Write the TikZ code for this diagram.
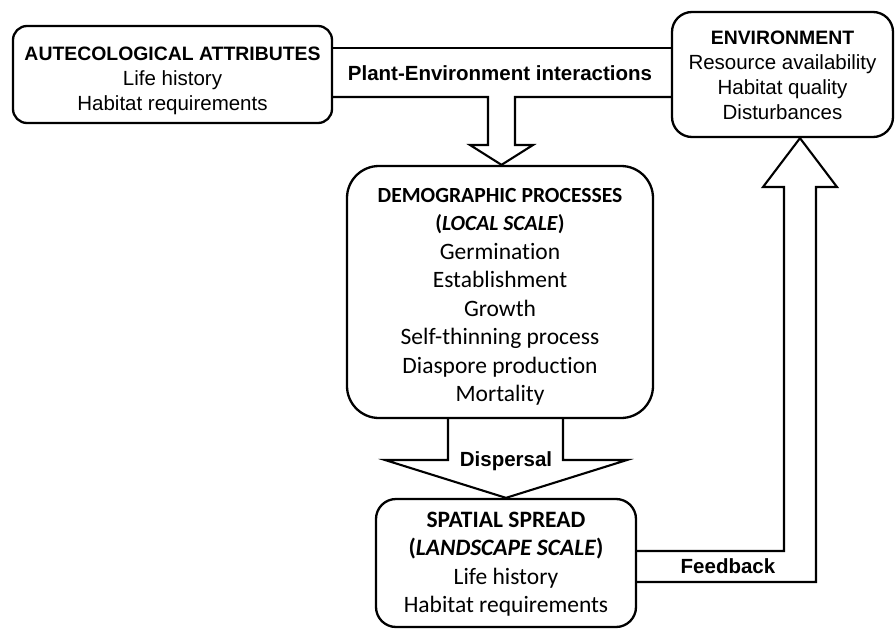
\documentclass[tikz,border=0pt]{standalone}
\usepackage{fontspec}
\setmainfont{Liberation Sans}
\newfontfamily\calibri[Ligatures={NoCommon}]{Carlito}
\usetikzlibrary{positioning}

\begin{document}
\begin{tikzpicture}[x=1pt,y=-1pt,
	box/.style={draw, line width=2.3pt, inner sep=0pt},
	arialtxt/.style={align=center, font=\fontsize{20.5}{25}\selectfont},
	calitxt/.style={align=center, font=\calibri\fontsize{23.5}{28.5}\selectfont},
	blockarrow/.style={draw, line width=2.1pt, line join=miter},
	arrowlabel/.style={font=\bfseries\fontsize{20.5}{23}\selectfont}
	]
	\useasboundingbox (0,0) rectangle (895,629);
	
	% Boxes
	\node[box, rounded corners=14pt, minimum width=319pt, minimum height=97pt] (auto) at (172.5,74.5) {};
	\node[box, rounded corners=20pt, minimum width=221pt, minimum height=125pt] (env) at (782.5,74.5) {};
	\node[box, rounded corners=32pt, minimum width=306pt, minimum height=252pt] (demo) at (500,292) {};
	\node[box, rounded corners=20pt, minimum width=260pt, minimum height=128pt] (spat) at (506,563) {};
	
	% Box texts
	\node[arialtxt] (autotxt) at ([yshift=-6pt]auto)
	{{\bfseries\fontsize{19.4}{25}\selectfont AUTECOLOGICAL ATTRIBUTES}\\Life history\\Habitat requirements};
	\node[arialtxt] (envtxt) at ([yshift=-1pt]env)
	{{\bfseries\fontsize{19.4}{25}\selectfont ENVIRONMENT}\\Resource availability\\Habitat quality\\Disturbances};
	\node[calitxt] (demotxt) at ([yshift=-5pt]demo)
	{{\bfseries\fontsize{21.6}{28.5}\selectfont DEMOGRAPHIC PROCESSES}\\{\bfseries\fontsize{21.6}{28.5}\selectfont(\textit{LOCAL SCALE})}\\Germination\\Establishment\\Growth\\Self-thinning process\\Diaspore production\\Mortality};
	\node[calitxt] (spattxt) at ([yshift=-1pt]spat)
	{{\bfseries\fontsize{23.5}{28.5}\selectfont SPATIAL SPREAD}\\{\bfseries\fontsize{23.5}{28.5}\selectfont(\textit{LANDSCAPE SCALE})}\\Life history\\Habitat requirements};
	
	% Plant-Environment interactions arrow
	\draw[blockarrow] (auto.east |- 0,48) -- (env.west |- 0,48);
	\draw[blockarrow] (auto.east |- 0,97) -- (488,97) -- (488,145) -- (470,145) -- ([xshift=1.5pt]demo.north)
		-- (533,145) -- (515,145) -- (515,97) -- (env.west |- 0,97);
	\node[arrowlabel] (pei) at (500,73) {Plant-Environment interactions};
	
	% Dispersal arrow
	\draw[blockarrow] (448,0 |- demo.south) -- (448,460) -- (385,460) -- (spat.north)
		-- (627,460) -- (563,460) -- (563,0 |- demo.south);
	\node[arrowlabel] (disp) at (506,461) {Dispersal};
	
	% Feedback arrow
	\coordinate (fbtip) at ([xshift=17.5pt]env.south);
	\draw[blockarrow] (spat.east |- 0,551) -- (784,551) -- (784,187) -- (763,187) -- (fbtip)
		-- (837,187) -- (816,187) -- (816,582) -- (spat.east |- 0,582);
	\node[arrowlabel] (fb) at (728,566) {Feedback};
	
\end{tikzpicture}
\end{document}
